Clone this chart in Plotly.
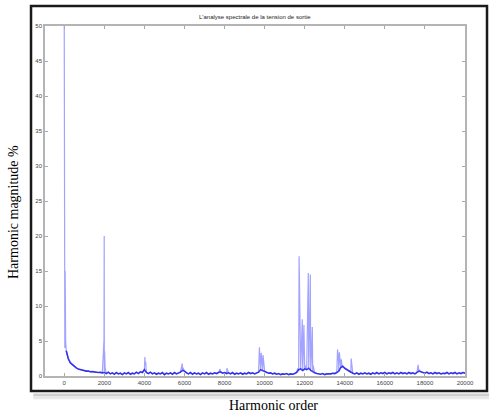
import plotly.graph_objects as go

# Noise floor sampled every 100 harmonic orders (0 .. 20000)
base_step = 100
base_vals = [
    50, 3.6, 2.5, 1.9, 1.6, 1.35, 1.15, 1.0, 0.9, 0.85, 0.75, 0.7, 0.72, 0.6, 0.63, 0.55, 0.58, 0.5, 0.52, 0.45,
    0.5, 0.35, 0.55, 0.3, 0.45, 0.25, 0.5, 0.3, 0.4, 0.2, 0.45, 0.3, 0.5, 0.25, 0.4, 0.3, 0.55, 0.35, 0.6, 0.5,
    0.9, 0.5, 0.35, 0.55, 0.3, 0.45, 0.25, 0.4, 0.3, 0.5, 0.2, 0.4, 0.3, 0.45, 0.25, 0.5, 0.3, 0.4, 0.55, 0.8,
    0.7, 0.45, 0.3, 0.5, 0.25, 0.45, 0.3, 0.4, 0.2, 0.45, 0.3, 0.5, 0.25, 0.4, 0.3, 0.45, 0.35, 0.5, 0.6, 0.4,
    0.5, 0.35, 0.45, 0.3, 0.5, 0.25, 0.4, 0.3, 0.45, 0.25, 0.4, 0.3, 0.5, 0.35, 0.45, 0.3, 0.4, 0.55, 0.9, 0.8,
    0.7, 0.5, 0.4, 0.45, 0.3, 0.4, 0.25, 0.35, 0.2, 0.3, 0.25, 0.35, 0.2, 0.3, 0.25, 0.35, 0.5, 0.9, 1.0, 0.8,
    1.0, 0.9, 1.1, 0.8, 0.6, 0.45, 0.35, 0.3, 0.25, 0.35, 0.2, 0.3, 0.25, 0.3, 0.4, 0.35, 0.5, 0.7, 1.2, 1.4,
    1.1, 0.9, 0.7, 0.5, 0.4, 0.3, 0.45, 0.25, 0.4, 0.3, 0.45, 0.3, 0.4, 0.25, 0.45, 0.3, 0.5, 0.3, 0.45, 0.35,
    0.5, 0.3, 0.45, 0.35, 0.5, 0.3, 0.45, 0.3, 0.5, 0.35, 0.45, 0.3, 0.5, 0.35, 0.45, 0.3, 0.5, 0.7, 0.6, 0.5,
    0.4, 0.55, 0.35, 0.45, 0.3, 0.5, 0.35, 0.45, 0.3, 0.4, 0.35, 0.5, 0.3, 0.45, 0.35, 0.5, 0.3, 0.45, 0.35, 0.5,
    0.4,
]

# Harmonic peaks (order, magnitude %)
peak_x = [30, 45, 70,
          1985, 1995, 2015, 2040,
          4025, 4045, 4065,
          5890, 5930,
          7780, 8120,
          9740, 9780, 9830, 9870, 9920, 9960,
          11640, 11720, 11760, 11880, 11920, 11960, 12020, 12180, 12220, 12280, 12330, 12380, 12420,
          13640, 13690, 13730, 13780, 13830, 13870, 14320, 14360,
          17660, 17700]
peak_y = [4, 15, 5,
          5.2, 20, 3.5, 1.2,
          2.7, 1.5, 2.0,
          1.8, 1.2,
          1.0, 1.1,
          4.1, 2.5, 3.3, 2.2, 3.0, 1.0,
          1.0, 17.1, 2.0, 8.1, 2.5, 7.3, 1.5, 14.7, 3.0, 14.5, 2.5, 7.0, 1.5,
          3.8, 2.0, 3.4, 1.5, 2.4, 1.2, 2.5, 0.8,
          1.6, 0.9]

x_ticks = [0, 2000, 4000, 6000, 8000, 10000, 12000, 14000, 16000, 18000, 20000]
x_tick_text = ["0", "2000", "4000", "6000", "8000", "10000", "12000", "14000", "16000", "18000", "20000"]
y_ticks = [0, 5, 10, 15, 20, 25, 30, 35, 40, 45, 50]

base_x = [i * base_step for i in range(len(base_vals))]
pts = sorted(list(zip(base_x, base_vals)) + list(zip(peak_x, peak_y)))
xs = [p[0] for p in pts]
ys = [p[1] for p in pts]

fig = go.Figure()
fig.add_trace(go.Scatter(x=xs, y=ys, mode="lines",
                         line=dict(color="rgba(70,70,255,0.5)", width=1.2),
                         hoverinfo="skip", showlegend=False))
# darker overlay of the dense noise floor
fig.add_trace(go.Scatter(x=base_x[1:], y=base_vals[1:], mode="lines",
                         line=dict(color="rgba(20,20,230,0.8)", width=1.6),
                         hoverinfo="skip", showlegend=False))

axis_common = dict(showgrid=False, zeroline=False, showline=True, linecolor="#b4b4b4",
                   linewidth=1.5, mirror="ticks", ticks="inside", ticklen=3, tickcolor="#aaa",
                   tickfont=dict(family="Liberation Sans", size=6, color="#444"))

fig.update_layout(
    width=489, height=416,
    margin=dict(l=45, r=24, t=26, b=40),
    paper_bgcolor="white", plot_bgcolor="white",
    xaxis=dict(range=[-960, 20000], tickvals=x_ticks, ticktext=x_tick_text, **axis_common),
    yaxis=dict(range=[0, 50], tickvals=y_ticks, **axis_common),
    annotations=[
        dict(text="L'analyse spectrale de la tension de sortie", x=0.5, y=1.0, xref="paper", yref="paper",
             yshift=4, xanchor="center", yanchor="bottom", showarrow=False,
             font=dict(family="Liberation Sans", size=6, color="#222")),
        dict(text="Harmonic magnitude %", x=-0.0738, y=0.4686, xref="paper", yref="paper",
             textangle=-90, showarrow=False, xanchor="center", yanchor="middle",
             font=dict(family="Liberation Serif", size=14, color="black")),
        dict(text="Harmonic order", x=0.543, y=-0.083, xref="paper", yref="paper",
             showarrow=False, xanchor="center", yanchor="middle",
             font=dict(family="Liberation Serif", size=14, color="black")),
    ],
    shapes=[
        dict(type="line", xref="paper", yref="paper", x0=-0.028, x1=1.058, y0=-0.054, y1=-0.054,
             line=dict(color="#cfcfcf", width=3)),
        dict(type="line", xref="paper", yref="paper", x0=-0.028, x1=1.058, y0=-0.062, y1=-0.062,
             line=dict(color="#e8e8e8", width=3)),
        dict(type="rect", xref="paper", yref="paper", x0=-0.0333, x1=1.0524, y0=-0.0429, y1=1.0571,
             line=dict(color="#1a1a1a", width=2.5), fillcolor="rgba(0,0,0,0)", layer="below"),
    ],
)

fig.write_html("out.html")
